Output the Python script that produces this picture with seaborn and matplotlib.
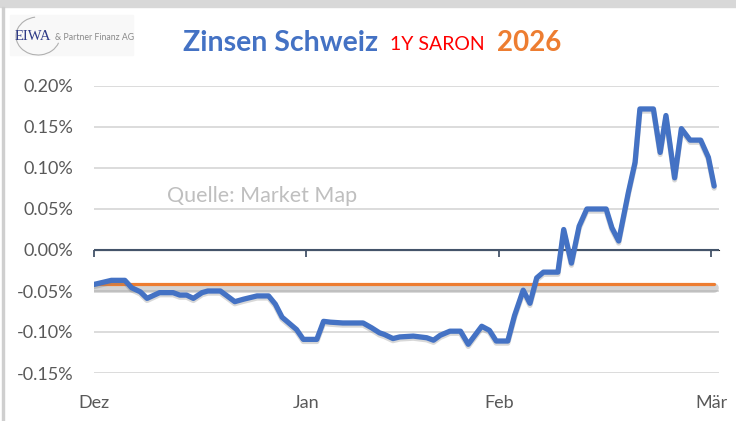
import numpy as np
import pandas as pd
import seaborn as sns
import matplotlib.pyplot as plt
import matplotlib.patches as mpatches
import matplotlib.patheffects as pe
from matplotlib.ticker import FuncFormatter

# 1Y SARON (x = trading days since start of Dez, y = %)
days = [0.0, 1.8, 3.2, 3.9, 4.8, 5.5, 6.8, 8.2, 8.9, 9.6, 10.3, 11.2, 11.8,
        13.1, 13.8, 14.6, 15.5, 16.9, 18.1, 18.8, 19.5, 20.3, 21.0, 21.7,
        23.1, 23.8, 24.5, 25.8, 27.9, 28.8, 29.6, 30.1, 31.0, 31.7, 33.1,
        34.5, 35.2, 35.9, 36.9, 38.0, 38.8, 40.2, 41.0, 41.7, 42.9, 43.6,
        44.5, 45.2, 45.9, 46.6, 48.1, 48.7, 49.5, 50.3, 51.1, 53.1, 53.7,
        54.4, 55.4, 56.1, 56.6, 58.0, 58.7, 59.3, 60.2, 60.9, 61.8, 62.9,
        63.7, 64.3]
saron = [-0.042, -0.037, -0.037, -0.046, -0.051, -0.059, -0.052, -0.052,
         -0.055, -0.055, -0.059, -0.052, -0.050, -0.050, -0.056, -0.063,
         -0.060, -0.056, -0.056, -0.066, -0.082, -0.090, -0.097, -0.109,
         -0.109, -0.087, -0.088, -0.089, -0.089, -0.095, -0.101, -0.103,
         -0.108, -0.106, -0.105, -0.107, -0.110, -0.104, -0.099, -0.099,
         -0.115, -0.093, -0.098, -0.111, -0.111, -0.080, -0.049, -0.065,
         -0.034, -0.027, -0.027, 0.025, -0.016, 0.029, 0.050, 0.050, 0.027,
         0.011, 0.070, 0.107, 0.172, 0.172, 0.119, 0.164, 0.088, 0.148,
         0.134, 0.134, 0.113, 0.078]
ref_rate = -0.041

month_pos = [0, 22, 42, 64]
month_labels = ['Dez', 'Jan', 'Feb', 'Mär']
y_ticks = [-0.15, -0.10, -0.05, 0.00, 0.05, 0.10, 0.15, 0.20]

sns.set_style('white')
plt.rcParams['font.family'] = ['Lato', 'DejaVu Sans']

W, H = 736, 421
fig = plt.figure(figsize=(W / 100, H / 100), dpi=100)

def px(x, y):
    return x / W, 1 - y / H

# frame of the screenshot
fig.patches.append(mpatches.Rectangle((0, 1 - 7 / H), 1, 7 / H, transform=fig.transFigure,
                                      color='#D8D8D8', zorder=0))
fig.patches.append(mpatches.Rectangle((2 / W, 0), 1.5 / W, 1 - 7 / H, transform=fig.transFigure,
                                      color='#CFCFCF', zorder=0))

ax = fig.add_axes([94 / W, 1 - 373 / H, (719 - 94) / W, (373 - 86) / H])

ax.set_ylim(-0.15, 0.20)
ax.set_xlim(0, 64.8)
ax.set_yticks(y_ticks)
ax.yaxis.set_major_formatter(FuncFormatter(lambda v, p: f'{v:.2f}%'))
ax.grid(axis='y', color='#D9D9D9', lw=1.3)
ax.grid(axis='x', visible=False)
for s in ax.spines.values():
    s.set_visible(False)

ax.set_xticks(month_pos)
ax.set_xticklabels(month_labels)
ax.tick_params(axis='x', length=0, pad=16, labelsize=13, labelcolor='#595959')
ax.tick_params(axis='y', length=0, pad=15, labelsize=13, labelcolor='#595959')

# zero axis with month ticks
ax.axhline(0, color='#44546A', lw=1.5, zorder=2)
sec = ax.secondary_xaxis(0.15 / 0.35)
sec.xaxis.set_ticks_position('bottom')
sec.set_xticks(month_pos)
sec.set_xticklabels([])
sec.tick_params(axis='x', direction='out', length=5, width=1.3, color='#44546A')

ref_df = pd.DataFrame({'day': [days[0], days[-1]], 'rate': [ref_rate, ref_rate]})
sns.lineplot(data=ref_df, x='day', y='rate', ax=ax, color='#ED7D31', lw=2.3,
             path_effects=[pe.SimpleLineShadow(offset=(0, -3), shadow_color='#A0A0A0', alpha=0.45,
                                               linewidth=7), pe.Normal()], zorder=3)
sns.lineplot(x=days, y=saron, ax=ax, color='#4472C4', lw=3.8, zorder=4,
             path_effects=[pe.SimpleLineShadow(offset=(0, -1.5), shadow_color='#808080', alpha=0.3),
                           pe.Normal()])
ax.set_xlabel('')
ax.set_ylabel('')

ax.text(*px(167, 196), 'Quelle: Market Map', transform=fig.transFigure, fontsize=15.5,
        color='#BFBFBF', va='center', ha='left')

# title
fig.text(*px(183, 43), 'Zinsen Schweiz', fontsize=20.5, fontweight='bold', color='#4472C4',
         va='center', ha='left')
fig.text(*px(390, 45), '1Y SARON', fontsize=14, color='#FF0000', va='center', ha='left')
fig.text(*px(497, 43), '2026', fontsize=20, fontweight='bold', color='#ED7D31',
         va='center', ha='left')

# logo
fig.patches.append(mpatches.Rectangle(px(10, 55), 123 / W, 40 / H, transform=fig.transFigure,
                                      color='#F8F8F8', zorder=0))
fig.patches.append(mpatches.Arc(px(38, 36), 44 / W, 38 / H, theta1=95, theta2=330,
                                transform=fig.transFigure, color='#B0B0B0', lw=0.8))
fig.text(*px(15, 36), 'EIWA', family=['Liberation Serif', 'DejaVu Serif'], fontsize=10.5,
         color='#2E3A87', va='center', ha='left')
fig.text(*px(55, 37), '& Partner Finanz AG', fontsize=6.3, color='#8A8A8A', va='center', ha='left')

fig.savefig('out.png', dpi=100)
